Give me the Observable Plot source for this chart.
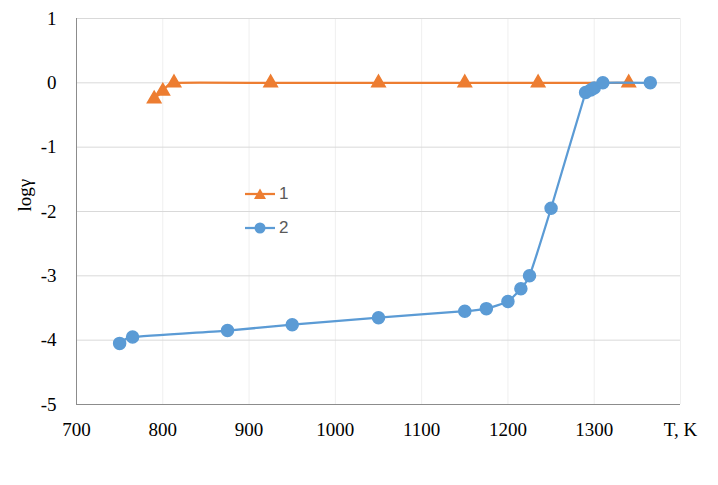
<!DOCTYPE html>
<html><head><meta charset="utf-8">
<script src="https://cdn.jsdelivr.net/npm/d3@7"></script>
<script src="https://cdn.jsdelivr.net/npm/@observablehq/plot@0.6"></script>
<style>
body{margin:0;background:#fff}
#c{position:relative;width:718px;height:485px}
#legend{position:absolute;left:245px;top:177px;font-family:"Liberation Sans",Arial,sans-serif;font-size:17px;color:#595959}
#legend div{display:flex;align-items:center;height:34px}
#legend span{margin-left:4px}
</style>
</head><body><div id="c"><div id="legend"></div></div>
<script>
// Series 1 (orange, triangles)
const T1 = [790, 800, 813, 925, 1050, 1150, 1235, 1340];
const logG1 = [-0.25, -0.13, 0, 0, 0, 0, 0, 0];
// Series 2 (blue, circles)
const T2 = [750, 765, 875, 950, 1050, 1150, 1175, 1200, 1215, 1225, 1250, 1290, 1296, 1300, 1310, 1365];
const logG2 = [-4.05, -3.95, -3.85, -3.76, -3.65, -3.55, -3.51, -3.4, -3.2, -3.0, -1.95, -0.15, -0.11, -0.08, 0, 0];
const seriesNames = ["1", "2"];
const seriesColors = ["#ED7D31", "#5B9BD5"];
const xTicks = [700, 800, 900, 1000, 1100, 1200, 1300, 1400];
const yTicks = [-5, -4, -3, -2, -1, 0, 1];
const xLabel = "T, K";
const yLabel = "logγ";

const d1 = T1.map((t, i) => ({T: t, v: logG1[i]}));
const d2 = T2.map((t, i) => ({T: t, v: logG2[i]}));
const font = "Liberation Serif, Times New Roman, serif";

const chart = Plot.plot({
  width: 718, height: 485,
  marginLeft: 76, marginRight: 38, marginTop: 18, marginBottom: 81,
  style: {fontFamily: font, fontSize: "19px", color: "#000", background: "#fff"},
  x: {domain: [700, 1400]},
  y: {domain: [-5, 1]},
  marks: [
    Plot.ruleX(xTicks.slice(1), {stroke: "#EFEFEF", strokeWidth: 1}),
    Plot.ruleY(yTicks.slice(1), {stroke: "#D9D9D9", strokeWidth: 1}),
    Plot.ruleY([-5], {stroke: "#8C8C8C", strokeWidth: 1}),
    Plot.ruleX([700], {stroke: "#8C8C8C", strokeWidth: 1}),
    Plot.axisX({ticks: xTicks, tickSize: 0, tickPadding: 18, label: null, fontSize: 19,
      tickFormat: d => d === 1400 ? xLabel : String(d)}),
    Plot.axisY({ticks: yTicks, tickSize: 0, tickPadding: 20, label: null, fontSize: 19,
      tickFormat: d => String(d)}),
    Plot.text([yLabel], {frameAnchor: "left", dx: -52, rotate: -90, fontSize: 19, fill: "#000"}),
    Plot.line(d1, {x: "T", y: "v", stroke: seriesColors[0], strokeWidth: 2.25, curve: "cardinal", tension: 0.6}),
    Plot.dot(d1, {x: "T", y: "v", symbol: "triangle", r: 5, fill: seriesColors[0], stroke: seriesColors[0]}),
    Plot.line(d2, {x: "T", y: "v", stroke: seriesColors[1], strokeWidth: 2.25, curve: "cardinal", tension: 0.6}),
    Plot.dot(d2, {x: "T", y: "v", r: 6, fill: seriesColors[1], stroke: seriesColors[1]})
  ]
});
document.getElementById("c").prepend(chart);

const leg = document.getElementById("legend");
seriesNames.forEach((name, i) => {
  const row = document.createElement("div");
  const mk = i === 0
    ? `<path d="M15,-5.5 L21,5 L9,5 Z" fill="${seriesColors[i]}"/>`
    : `<circle cx="15" cy="0" r="5.5" fill="${seriesColors[i]}"/>`;
  row.innerHTML = `<svg width="30" height="14" viewBox="0 -7 30 14"><line x1="0" x2="30" y1="0" y2="0" stroke="${seriesColors[i]}" stroke-width="2.25"/>${mk}</svg><span>${name}</span>`;
  leg.appendChild(row);
});
</script>
</body></html>
